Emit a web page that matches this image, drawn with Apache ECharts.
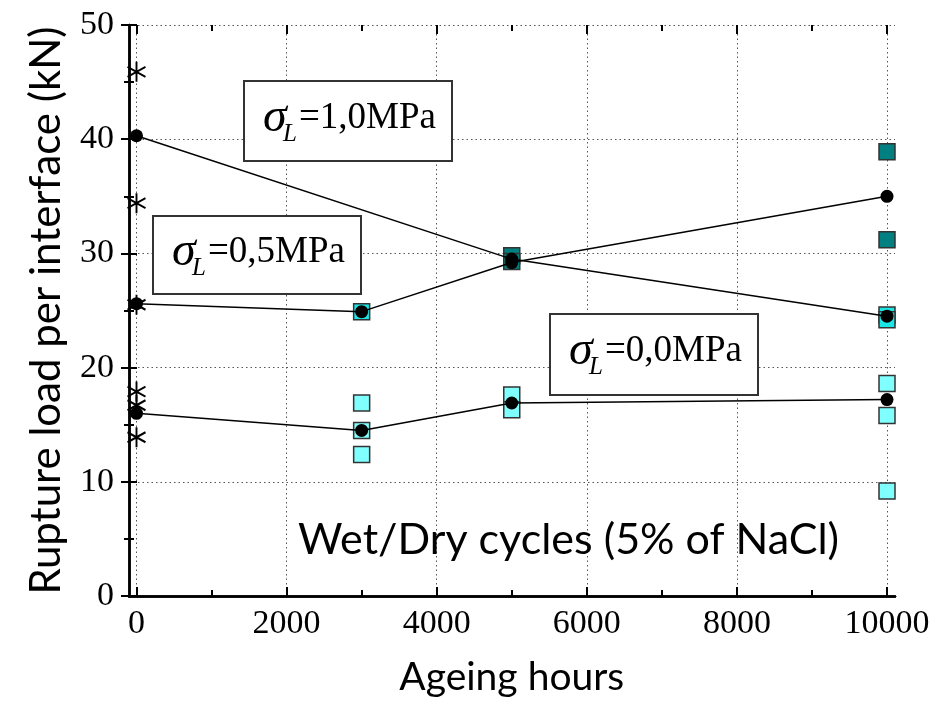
<!DOCTYPE html>
<html>
<head>
<meta charset="utf-8">
<script src="https://cdn.jsdelivr.net/npm/echarts@6/dist/echarts.min.js"></script>
<style>
html,body{margin:0;padding:0;background:#fff;}
#chart{width:950px;height:704px;}
</style>
</head>
<body>
<div id="chart"></div>
<script>
// ---- data ----
const xTickHours = [0, 2000, 4000, 6000, 8000, 10000];
const yTickLoads = [0, 10, 20, 30, 40, 50];

const sigma10Hours = [0, 5000, 10000];
const sigma10Mean  = [40.3, 29.5, 24.5];
const sigma05Hours = [0, 3000, 5000, 10000];
const sigma05Mean  = [25.6, 24.9, 29.2, 35.0];
const sigma00Hours = [0, 3000, 5000, 10000];
const sigma00Mean  = [16.0, 14.5, 16.9, 17.2];

const lightHours = [3000, 3000, 3000, 5000, 5000, 10000, 10000, 10000];
const lightLoads = [16.9, 14.5, 12.4, 17.6, 16.3, 18.6, 15.8, 9.2];
const midHours   = [3000, 10000, 10000];
const midLoads   = [24.9, 24.6, 24.2];
const darkHours  = [5000, 5000, 10000, 10000];
const darkLoads  = [29.8, 29.3, 38.9, 31.2];
const starHours  = [0, 0, 0, 0, 0, 0];
const starLoads  = [45.9, 34.4, 25.5, 17.9, 16.7, 13.9];

const labelTexts = ['1,0MPa', '0,5MPa', '0,0MPa'];
const noteText = 'Wet/Dry cycles (5% of NaCl)';
const xTitle = 'Ageing hours';
const yTitle = 'Rupture load per interface (kN)';

// ---- helpers ----
const zip = (xs, ys) => xs.map((x, i) => [x, ys[i]]);
const serif = '"Liberation Serif", "Times New Roman", serif';
const sans = 'Lato, "Open Sans", sans-serif';
const dotted = { show: true, lineStyle: { color: '#555', width: 1, type: [1.5, 3] } };

const chart = echarts.init(document.getElementById('chart'), null, { renderer: 'canvas' });

const frameX = { type: 'value', gridIndex: 0, min: 0, max: 1,
  axisLine: { show: true, lineStyle: { color: '#000', width: 2.5 } },
  axisTick: { show: false }, axisLabel: { show: false }, splitLine: { show: false } };
const frameY = { type: 'value', gridIndex: 0, min: yTickLoads[0], max: yTickLoads[yTickLoads.length - 1], interval: 10,
  axisLine: { show: true, lineStyle: { color: '#000', width: 2.5 } },
  axisTick: { show: true, inside: true, length: 8, lineStyle: { color: '#000', width: 2 } },
  minorTick: { show: true, splitNumber: 2, length: 5, lineStyle: { color: '#000', width: 2 } } };

const dataX = { type: 'value', gridIndex: 1, min: xTickHours[0], max: xTickHours[xTickHours.length - 1], interval: 2000,
  axisLine: { show: false },
  axisTick: { show: true, inside: true, length: 9, lineStyle: { color: '#000', width: 2 } },
  minorTick: { show: true, splitNumber: 2, length: 6, lineStyle: { color: '#000', width: 2 } } };

const sq = (name, data, color) => ({
  name, type: 'scatter', xAxisIndex: 2, yAxisIndex: 2, data, symbol: 'rect', symbolSize: 16,
  clip: false, z: 2,
  itemStyle: { color, borderColor: '#333', borderWidth: 1.5, opacity: 1 }
});
const meanLine = (name, data) => ({
  name, type: 'line', xAxisIndex: 2, yAxisIndex: 2, data, symbol: 'circle', symbolSize: 13,
  showAllSymbol: true, clip: false, z: 4,
  lineStyle: { color: '#000', width: 1.5 }, itemStyle: { color: '#000', borderWidth: 0 }
});

const boxes = [
  { x: 243, y: 80, w: 208, h: 80 },
  { x: 152, y: 215, w: 208, h: 78 },
  { x: 549, y: 313, w: 208, h: 81 }
];
const graphics = [];
boxes.forEach((b, i) => {
  graphics.push({ type: 'rect', left: b.x, top: b.y, z: 10,
    shape: { width: b.w, height: b.h },
    style: { fill: '#fff', stroke: '#333', lineWidth: 2 } });
  graphics.push({ type: 'text', left: b.x + 20, top: b.y + b.h / 2 - 26, z: 11,
    style: { text: '{s|σ}{l|L}{n|=' + labelTexts[i] + '}',
      rich: {
        s: { fontFamily: serif, fontStyle: 'italic', fontSize: 48, fill: '#000', width: 20, height: 52 },
        l: { fontFamily: serif, fontStyle: 'italic', fontSize: 25, fill: '#000', padding: [32, 2, 0, 0] },
        n: { fontFamily: serif, fontSize: 37, fill: '#000', height: 52 }
      } } });
});
graphics.push({ type: 'text', left: 298, top: 519, z: 11,
  style: { text: noteText, font: '43px ' + sans, fill: '#000' } });

chart.setOption({
  animation: false,
  backgroundColor: '#fff',
  grid: [
    { left: 129, right: 55, top: 25, bottom: 108 },
    { left: 136.5, right: 63, top: 25, bottom: 108 }
  ],
  xAxis: [
    Object.assign({}, frameX, { position: 'bottom' }),
    Object.assign({}, frameX, { position: 'top' }),
    Object.assign({}, dataX, { position: 'bottom',
      axisLabel: { show: true, fontFamily: serif, fontSize: 34, color: '#000', margin: 11,
        formatter: v => String(v) },
      splitLine: dotted,
      name: xTitle, nameLocation: 'middle', nameGap: 62,
      nameTextStyle: { fontFamily: sans, fontSize: 39, color: '#000' } }),
    Object.assign({}, dataX, { position: 'top', axisLabel: { show: false }, splitLine: { show: false } })
  ],
  yAxis: [
    Object.assign({}, frameY, { position: 'left',
      axisLabel: { show: true, fontFamily: serif, fontSize: 34, color: '#000', margin: 15 },
      splitLine: dotted,
      name: yTitle, nameLocation: 'middle', nameGap: 62,
      nameTextStyle: { fontFamily: sans, fontSize: 42, color: '#000' } }),
    Object.assign({}, frameY, { position: 'right', axisLabel: { show: false }, splitLine: { show: false } }),
    { type: 'value', gridIndex: 1, min: 0, max: 50, show: false }
  ],
  series: [
    sq('light', zip(lightHours, lightLoads), '#80FFFF'),
    sq('mid', zip(midHours, midLoads), '#1BE6E6'),
    sq('dark', zip(darkHours, darkLoads), '#008080'),
    meanLine('σL=1,0MPa', zip(sigma10Hours, sigma10Mean)),
    meanLine('σL=0,5MPa', zip(sigma05Hours, sigma05Mean)),
    meanLine('σL=0,0MPa', zip(sigma00Hours, sigma00Mean)),
    { name: 'unaged', type: 'scatter', xAxisIndex: 2, yAxisIndex: 2, data: zip(starHours, starLoads),
      symbol: 'path://M50 0L50 100M6.7 25L93.3 75M6.7 75L93.3 25', symbolSize: [18, 20], clip: false, z: 3,
      itemStyle: { color: 'none', borderColor: '#000', borderWidth: 2, opacity: 1 } }
  ],
  graphic: graphics
});
</script>
</body>
</html>
